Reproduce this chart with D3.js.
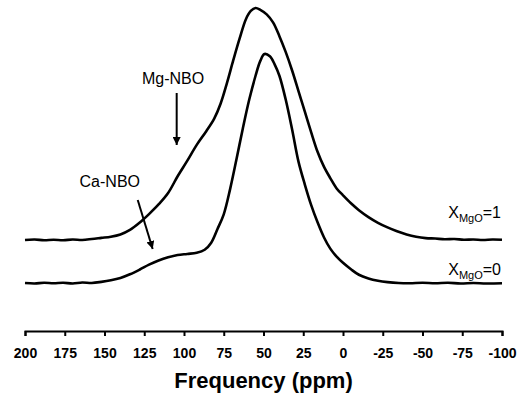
<!DOCTYPE html>
<html>
<head>
<meta charset="utf-8">
<script src="https://cdn.jsdelivr.net/npm/d3@7"></script>
<style>
  body { margin: 0; background: #fff; }
  svg { display: block; font-family: "Liberation Sans", Arial, sans-serif; }
</style>
</head>
<body>
<div id="chart"></div>
<script>
const width = 522;
const height = 403;

// spectra, [ppm, normalised intensity]
const xMgO0 = [
  [200, 0.000], [194, -0.002], [188, 0.001], [182, -0.001], [176, 0.001], [170, -0.002],
  [164, 0.002], [158, 0.000], [152, 0.005], [146, 0.012], [140, 0.022], [134, 0.038],
  [128, 0.058], [122, 0.080], [116, 0.098], [110, 0.112], [104, 0.122], [98, 0.127],
  [92, 0.132], [87, 0.145], [83, 0.175], [79, 0.235], [75, 0.300], [71, 0.410],
  [67, 0.540], [63, 0.675], [59, 0.800], [55, 0.905], [52, 0.970], [49.4, 1.000],
  [46, 0.990], [43, 0.955], [40, 0.905], [36, 0.800], [32, 0.670], [28, 0.530],
  [24, 0.430], [20, 0.340], [16, 0.265], [12, 0.200], [8, 0.150], [4, 0.115],
  [0, 0.088], [-5, 0.060], [-10, 0.036], [-16, 0.020], [-22, 0.010], [-28, 0.004],
  [-35, 0.000], [-42, -0.001], [-50, 0.001], [-58, -0.001], [-66, 0.001], [-74, -0.002],
  [-82, 0.000], [-90, -0.002], [-100, -0.001]
];

const xMgO1 = [
  [200, 0.000], [194, 0.002], [188, -0.001], [182, 0.001], [176, -0.001], [170, 0.002],
  [164, 0.000], [158, 0.004], [152, 0.009], [146, 0.014], [140, 0.024], [134, 0.044],
  [128, 0.075], [122, 0.113], [116, 0.155], [110, 0.205], [104, 0.278], [98, 0.345],
  [92, 0.415], [86, 0.475], [81, 0.530], [77, 0.595], [73, 0.685], [69, 0.785],
  [65, 0.880], [61, 0.965], [58, 1.000], [55, 1.013], [52, 1.005], [48, 0.985],
  [44, 0.950], [40, 0.890], [36, 0.820], [32, 0.740], [28, 0.650], [24, 0.560],
  [20, 0.470], [16, 0.385], [12, 0.320], [8, 0.270], [4, 0.225], [0, 0.195],
  [-5, 0.160], [-10, 0.130], [-16, 0.100], [-22, 0.075], [-28, 0.055], [-34, 0.038],
  [-40, 0.024], [-46, 0.014], [-52, 0.008], [-58, 0.006], [-64, 0.003], [-70, 0.004],
  [-76, 0.001], [-82, 0.002], [-88, 0.000], [-94, 0.002], [-100, 0.001]
];

const offsets = [0, 0.188];
const xTicks = [200, 175, 150, 125, 100, 75, 50, 25, 0, -25, -50, -75, -100];

const svg = d3
  .select('#chart')
  .append('svg')
  .attr('width', width)
  .attr('height', height);

const x = d3.scaleLinear().domain([200, -100]).range([25, 502]);
const y = d3.scaleLinear().domain([0, 1]).range([283, 54]);

/* Axis
-----------------------------------------------------------------------------*/
const axisY = 331;
const axis = svg
  .append('g')
  .attr('transform', `translate(0, ${axisY})`)
  .call(
    d3
      .axisBottom(x)
      .tickValues(xTicks)
      .tickFormat((d) => String(d))
      .tickSize(5)
      .tickSizeOuter(5)
      .tickPadding(12)
  );

axis.select('.domain').attr('stroke', '#000').attr('stroke-width', 2);
axis.selectAll('.tick line').attr('stroke', '#000').attr('stroke-width', 2);
axis
  .selectAll('.tick text')
  .attr('fill', '#000')
  .attr('font-size', 14)
  .attr('font-weight', 'bold')
  .attr('font-family', '"Liberation Sans", Arial, sans-serif');

svg
  .append('text')
  .attr('x', (x(200) + x(-100)) / 2)
  .attr('y', 388)
  .attr('text-anchor', 'middle')
  .attr('font-size', 22)
  .attr('font-weight', 'bold')
  .text('Frequency (ppm)');

/* Spectra
-----------------------------------------------------------------------------*/
function drawSpectrum(data, offset) {
  const line = d3
    .line()
    .x((d) => x(d[0]))
    .y((d) => y(d[1] + offset))
    .curve(d3.curveCatmullRom.alpha(0.5));

  svg
    .append('path')
    .datum(data)
    .attr('fill', 'none')
    .attr('stroke', '#000')
    .attr('stroke-width', 2.6)
    .attr('stroke-linejoin', 'round')
    .attr('d', line);
}

drawSpectrum(xMgO0, offsets[0]);
drawSpectrum(xMgO1, offsets[1]);

/* Labels
-----------------------------------------------------------------------------*/
function seriesLabel(value, yPos) {
  const t = svg
    .append('text')
    .attr('x', 501)
    .attr('y', yPos)
    .attr('text-anchor', 'end')
    .attr('font-size', 16);
  t.append('tspan').text('X');
  t.append('tspan').attr('font-size', 11).attr('dy', 4).text('MgO');
  t.append('tspan').attr('dy', -4).text('=' + value);
}

seriesLabel(1, 218);
seriesLabel(0, 275);

svg
  .append('defs')
  .append('marker')
  .attr('id', 'head')
  .attr('viewBox', '0 0 10 10')
  .attr('refX', 10)
  .attr('refY', 5)
  .attr('markerWidth', 4)
  .attr('markerHeight', 4)
  .attr('orient', 'auto')
  .append('path')
  .attr('d', 'M0,0L10,5L0,10Z')
  .attr('fill', '#000');

function arrow(x1, y1, x2, y2) {
  svg
    .append('line')
    .attr('x1', x1)
    .attr('y1', y1)
    .attr('x2', x2)
    .attr('y2', y2)
    .attr('stroke', '#000')
    .attr('stroke-width', 2)
    .attr('marker-end', 'url(#head)');
}

svg
  .append('text')
  .attr('x', 142)
  .attr('y', 84)
  .attr('font-size', 16)
  .text('Mg-NBO');
arrow(x(104.6), 93, x(104.6), 145);

svg
  .append('text')
  .attr('x', 140)
  .attr('y', 187)
  .attr('text-anchor', 'end')
  .attr('font-size', 16)
  .text('Ca-NBO');
arrow(x(129.1), 200, x(119.7), 249);
</script>
</body>
</html>
